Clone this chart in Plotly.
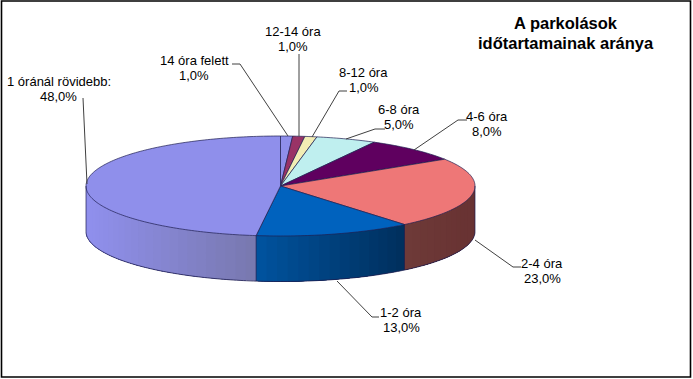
import numpy as np
import plotly.graph_objects as go

# ---- data -------------------------------------------------------------
categories = ["14 óra felett", "12-14 óra", "8-12 óra", "6-8 óra", "4-6 óra",
              "2-4 óra", "1-2 óra", "1 óránál rövidebb:"]
shares = [1.0, 1.0, 1.0, 5.0, 8.0, 23.0, 13.0, 48.0]
title_lines = ["A parkolások", "időtartamainak aránya"]

# ---- style ------------------------------------------------------------
top_colors = ["#8F8FEB", "#993366", "#F2EDB4", "#BFEFEF", "#5F005F", "#EE7777", "#0062BE", "#8F8FEB"]
side_left = ["#8F8FEB", "#6E2044", "#B5B080", "#8FBABA", "#400040", "#6E3A38", "#00539F", "#9090EE"]
side_right = ["#8F8FEB", "#6E2044", "#B5B080", "#8FBABA", "#400040", "#683232", "#002F5C", "#7878AE"]
EDGE = "#1E1E50"
LEADER = "#404040"
CX, CY, RX, RY, DEPTH = 280.5, 186.0, 194.5, 50.0, 45.5

# leader polylines and label anchors, in chart pixels, by category
leaders = [
    [(232, 64), (240, 64), (288, 136)],
    [(299, 54), (299, 136)],
    [(347, 91), (339, 91), (312, 137)],
    [(385, 129), (375, 129), (346, 139)],
    [(467, 120), (458, 120), (414, 150)],
    [(521, 267), (513, 267), (475, 240)],
    [(379, 317), (372, 317), (337, 281)],
    [(83, 98), (87, 184)],
]
label_pos = [(194, 68), (293, 38.5), (363.5, 79.5), (399, 117), (487, 123.5), (542, 270.5), (401, 320), (58.5, 88.5)]


def hex_rgb(h):
    return np.array([int(h[i:i + 2], 16) for i in (1, 3, 5)], float)


def mix(a, b, t):
    c = hex_rgb(a) * (1 - t) + hex_rgb(b) * t
    return "rgb(%d,%d,%d)" % tuple(c.round())


def pt(deg, dy=0.0):
    r = np.radians(deg)
    return CX + RX * np.sin(r), CY - RY * np.cos(r) + dy


def arc(a, b, dy=0.0, step=1.0):
    n = max(2, int(abs(b - a) / step) + 1)
    return pt(np.linspace(a, b, n), dy)


fig = go.Figure()


def poly(x, y, fill=None, line=None, width=0.8):
    fig.add_trace(go.Scatter(
        x=list(x), y=list(y), mode="lines",
        fill="toself" if fill else "none", fillcolor=fill,
        line=dict(color=line or fill or "rgba(0,0,0,0)", width=width, simplify=False),
        hoverinfo="skip", showlegend=False))


edges = 3.6 * np.concatenate([[0], np.cumsum(shares)])

# rim: only the front half of the disc is visible
for i in range(len(shares)):
    a, b = max(edges[i], 90.0), min(edges[i + 1], 270.0)
    if b <= a:
        continue
    cuts = np.linspace(a, b, max(2, int((b - a) / 3) + 1))
    x_right, x_left = pt(a)[0], pt(b)[0]
    for u, v in zip(cuts[:-1], cuts[1:]):
        # each band runs on to the slice end, the next one paints over it: no seams
        xs, ys = arc(u, b)
        xm = (pt(u)[0] + pt(v)[0]) / 2
        t = (xm - x_left) / (x_right - x_left)
        col = mix(side_left[i], side_right[i], t)
        fig.add_trace(go.Scatter(
            x=list(np.r_[xs, xs[::-1]]), y=list(np.r_[ys, ys[::-1] + DEPTH]), mode="lines",
            fill="toself", fillcolor=col, line=dict(width=0), hoverinfo="skip", showlegend=False))

# top face
for i in range(len(shares)):
    xs, ys = arc(edges[i], edges[i + 1])
    poly(np.r_[CX, xs, CX], np.r_[CY, ys, CY], fill=top_colors[i], line=EDGE, width=0.7)

# rim outline
xs, ys = arc(90, 270)
poly(xs, ys + DEPTH, line=EDGE, width=0.8)
for deg in (90.0, 270.0):
    x0, y0 = pt(deg)
    poly([x0, x0], [y0, y0 + DEPTH], line=EDGE, width=0.7)
for e in edges:
    if 90 < e < 270:
        x0, y0 = pt(e)
        poly([x0, x0], [y0, y0 + DEPTH], line=EDGE, width=0.7)

# leader lines
for path in leaders:
    poly([p[0] for p in path], [p[1] for p in path], line=LEADER, width=1)

# labels
annotations = []
for name, val, (lx, ly) in zip(categories, shares, label_pos):
    for text, dy in ((name, -7.5), (f"{val:.1f}%".replace(".", ","), 7.5)):
        annotations.append(dict(
            x=lx, y=ly + dy, xref="x", yref="y", showarrow=False, text=text,
            font=dict(family="Liberation Sans", size=13, color="#000000")))
for line, ty in zip(title_lines, (23, 43)):
    annotations.append(dict(
        x=566, y=ty, xref="x", yref="y", showarrow=False,
        text=f"<b>{line}</b>",
        font=dict(family="Liberation Sans", size=16.5, color="#000000")))

fig.update_layout(
    width=693, height=379, margin=dict(l=0, r=0, t=0, b=0),
    paper_bgcolor="white", plot_bgcolor="white", showlegend=False,
    xaxis=dict(visible=False, range=[0, 693], fixedrange=True),
    yaxis=dict(visible=False, range=[379, 0], fixedrange=True),
    annotations=annotations,
    shapes=[dict(type="rect", xref="x", yref="y", x0=1.5, y0=1, x1=690.5, y1=377,
                 line=dict(color="#000000", width=1.6))],
)
fig.write_html("out.html", config={"displayModeBar": False},
               post_script="document.body.style.margin='0';document.body.style.overflow='hidden';")
